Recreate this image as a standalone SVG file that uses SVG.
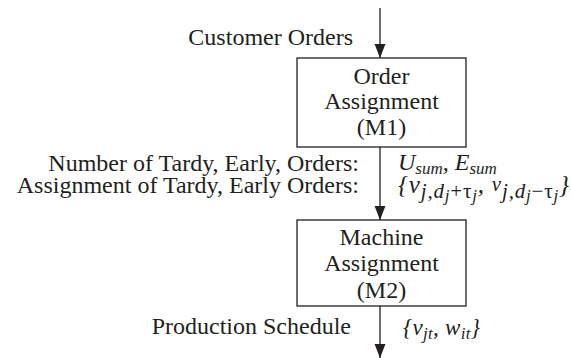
<svg xmlns="http://www.w3.org/2000/svg" width="571" height="358" viewBox="0 0 571 358">
<defs>
<marker id="ah" markerUnits="userSpaceOnUse" markerWidth="14" markerHeight="18" refX="18" refY="7" orient="auto" viewBox="0 0 18 14">
<path d="M0,0 L18,7 L0,14 Z" fill="#231f20"/>
</marker>
</defs>
<style>
.t{font-family:'Liberation Serif','DejaVu Serif',serif;font-size:24px;fill:#231f20}
.c{text-anchor:middle}
.r{text-anchor:end}
.i{font-style:italic}
.box{fill:#fff;stroke:#231f20;stroke-width:1.3}
.edge{stroke:#231f20;stroke-width:1.3;fill:none;marker-end:url(#ah)}
</style>
<rect width="571" height="358" fill="#fff"/>
<g id="connectors">
<line class="edge" x1="380" y1="8" x2="380" y2="58"/>
<line class="edge" x1="380" y1="147" x2="380" y2="220"/>
<line class="edge" x1="380" y1="306" x2="380" y2="358"/>
</g>
<g id="m1" class="t">
<rect class="box" x="297" y="58" width="169" height="89"/>
<text class="c" x="381.5" y="84">Order</text>
<text class="c" x="381.5" y="109">Assignment</text>
<text class="c" x="381.5" y="135">(M1)</text>
</g>
<g id="m2" class="t">
<rect class="box" x="297" y="220" width="169" height="86"/>
<text class="c" x="381.5" y="245">Machine</text>
<text class="c" x="381.5" y="271">Assignment</text>
<text class="c" x="381.5" y="298">(M2)</text>
</g>
<g id="labels" class="t">
<text class="r" x="353" y="45">Customer Orders</text>
<text class="r" x="359" y="171">Number of Tardy, Early, Orders:</text>
<text class="r" x="359" y="193">Assignment of Tardy, Early Orders:</text>
<text class="i" x="398" y="170">U<tspan font-size="17" dy="4">sum</tspan><tspan dy="-4">, E</tspan><tspan font-size="17" dy="4">sum</tspan></text>
<text class="i" x="398" y="193" font-size="25" textLength="171" lengthAdjust="spacing">{v<tspan font-size="21" dy="5">j,d</tspan><tspan font-size="17" dy="3">j</tspan><tspan font-size="21" dy="-3" font-style="normal">+τ</tspan><tspan font-size="17" dy="3">j</tspan><tspan dy="-8">, </tspan><tspan font-size="21" dy="-2">v</tspan><tspan font-size="21" dy="7">j,d</tspan><tspan font-size="17" dy="3">j</tspan><tspan font-size="21" dy="-3" font-style="normal">−τ</tspan><tspan font-size="17" dy="3">j</tspan><tspan dy="-8">}</tspan></text>
<text class="r" x="351" y="334">Production Schedule</text>
<text class="i" x="403" y="335" font-size="23" textLength="77" lengthAdjust="spacing">{v<tspan font-size="17" dy="4">jt</tspan><tspan dy="-4">, w</tspan><tspan font-size="17" dy="4">it</tspan><tspan dy="-4">}</tspan></text>
</g>
</svg>
